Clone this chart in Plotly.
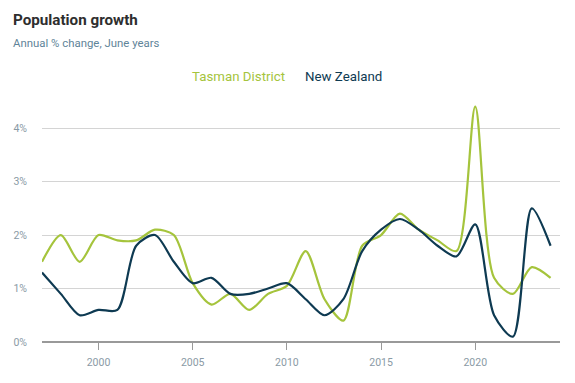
import plotly.graph_objects as go

years = list(range(1997, 2025))
tasman = [1.5, 2.0, 1.5, 2.0, 1.9, 1.9, 2.1, 2.0, 1.1, 0.7, 0.9, 0.6, 0.9, 1.05,
          1.7, 0.8, 0.4, 1.8, 2.0, 2.4, 2.1, 1.9, 1.7, 4.4, 1.2, 0.9, 1.4, 1.2]
nz = [1.3, 0.9, 0.5, 0.6, 0.6, 1.8, 2.0, 1.5, 1.1, 1.2, 0.9, 0.9, 1.0, 1.1,
      0.8, 0.5, 0.8, 1.7, 2.1, 2.3, 2.1, 1.8, 1.6, 2.2, 0.5, 0.1, 2.5, 1.8]
series_names = ["Tasman District", "New Zealand"]
tick_vals = [0, 1, 2, 3, 4]
tick_text = ["0%", "1%", "2%", "3%", "4%"]

GREEN = "#a5c43c"
NAVY = "#0e3a52"

fig = go.Figure()
fig.add_trace(go.Scatter(x=years, y=tasman, name=series_names[0], mode="lines",
                         line=dict(color=GREEN, width=2.2, shape="spline", smoothing=0.8)))
fig.add_trace(go.Scatter(x=years, y=nz, name=series_names[1], mode="lines",
                         line=dict(color=NAVY, width=2.2, shape="spline", smoothing=0.8)))

L, R, T, B = 42, 15, 96, 41
PW, PH = 575 - L - R, 383 - T - B

fig.update_layout(
    width=575, height=383,
    margin=dict(l=L, r=R, t=T, b=B, autoexpand=False),
    paper_bgcolor="white", plot_bgcolor="white",
    font=dict(family="Roboto", color="#8a9aa5", size=10.5),
    showlegend=False,
    xaxis=dict(range=[1997, 2024.5], tickvals=[2000, 2005, 2010, 2015, 2020],
               showgrid=False, zeroline=False, showline=False,
               ticks="outside", ticklen=7, tickcolor="#999999", tickwidth=1.2,
               ticklabelstandoff=3,
               tickfont=dict(size=10.5, color="#8a9aa5")),
    yaxis=dict(range=[0, 4.6], tickvals=tick_vals, ticktext=tick_text,
               showgrid=True, gridcolor="#d4d4d4", gridwidth=1,
               zeroline=True, zerolinecolor="#999999", zerolinewidth=1.5,
               showline=False, ticks="", ticklabelstandoff=14,
               tickfont=dict(size=10.5, color="#8a9aa5")),
)

def ax(px):
    return (px - L) / PW

def ay(py):
    return 1 + (T - py) / PH

fig.add_annotation(text="<b>Population growth</b>", xref="paper", yref="paper",
                   x=ax(11), y=ay(20), xanchor="left", yanchor="middle",
                   showarrow=False, font=dict(size=15.2, color="#2e2e2e", family="Roboto"))
fig.add_annotation(text="Annual % change, June years", xref="paper", yref="paper",
                   x=ax(11), y=ay(43), xanchor="left", yanchor="middle",
                   showarrow=False, font=dict(size=11.4, color="#5f8499", family="Roboto"))
fig.add_annotation(text=series_names[0], xref="paper", yref="paper",
                   x=ax(190), y=ay(76), xanchor="left", yanchor="middle",
                   showarrow=False, font=dict(size=13.3, color=GREEN, family="Roboto"))
fig.add_annotation(text=series_names[1], xref="paper", yref="paper",
                   x=ax(303), y=ay(76), xanchor="left", yanchor="middle",
                   showarrow=False, font=dict(size=13.3, color=NAVY, family="Roboto"))

fig.write_html("out.html", config={"displayModeBar": False},
               post_script="document.body.style.margin='0';")
